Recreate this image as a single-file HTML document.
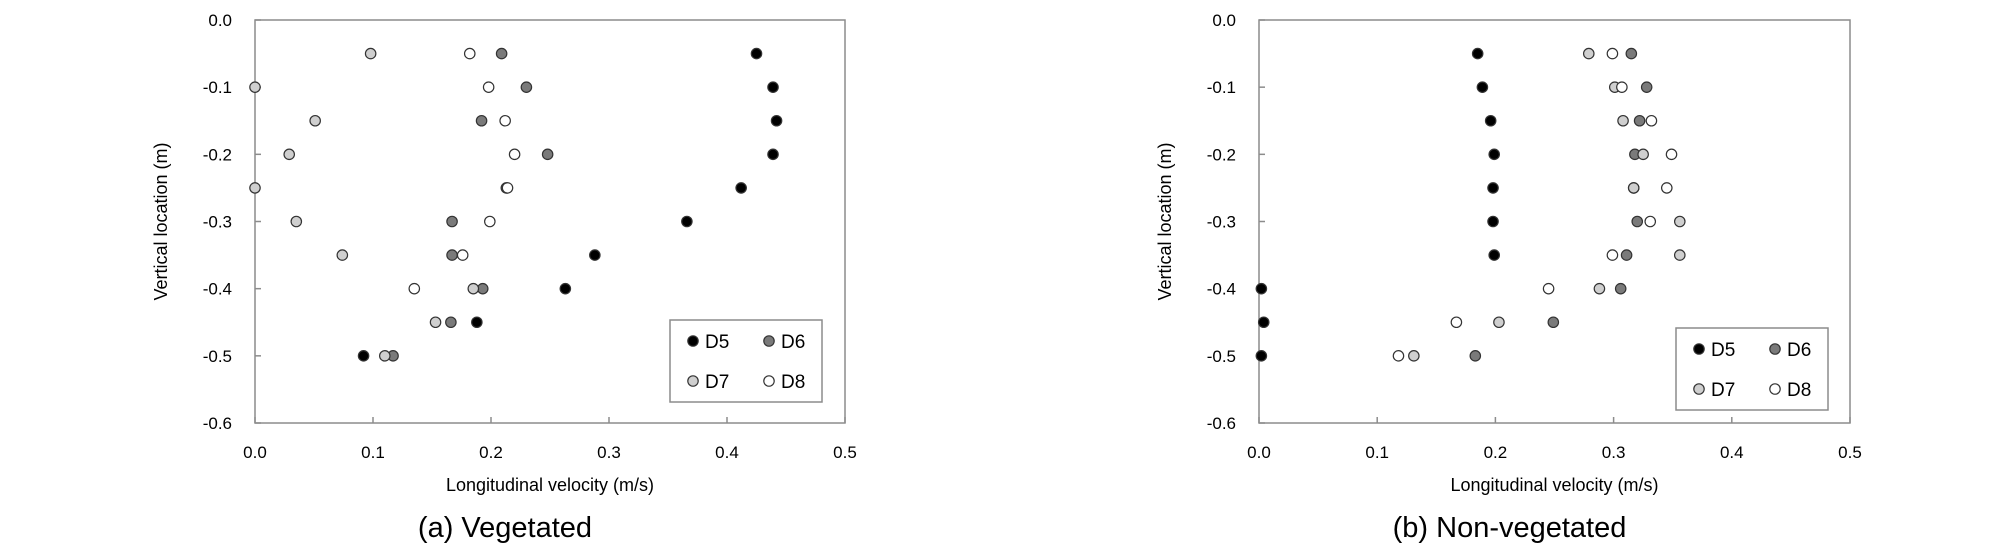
<!DOCTYPE html>
<html><head><meta charset="utf-8"><style>
html,body{margin:0;padding:0;background:#fff;}
svg{display:block;font-family:"Liberation Sans",sans-serif;}
</style></head><body>
<svg id="chart" width="2008" height="554" viewBox="0 0 2008 554" xmlns="http://www.w3.org/2000/svg"></svg>
<script>
const depths = [-0.05,-0.1,-0.15,-0.2,-0.25,-0.3,-0.35,-0.4,-0.45,-0.5];
const seriesNames = ["D5","D6","D7","D8"];
const xTicks = [0,0.1,0.2,0.3,0.4,0.5];
const yTicks = [0,-0.1,-0.2,-0.3,-0.4,-0.5,-0.6];
const vegD5 = [0.425,0.439,0.442,0.439,0.412,0.366,0.288,0.263,0.188,0.092];
const vegD6 = [0.209,0.230,0.192,0.248,0.213,0.167,0.167,0.193,0.166,0.117];
const vegD7 = [0.098,0.000,0.051,0.029,0.000,0.035,0.074,0.185,0.153,0.110];
const vegD8 = [0.182,0.198,0.212,0.220,0.214,0.199,0.176,0.135,null,null];
const nonD5 = [0.185,0.189,0.196,0.199,0.198,0.198,0.199,0.002,0.004,0.002];
const nonD6 = [0.315,0.328,0.322,0.318,0.317,0.320,0.311,0.306,0.249,0.183];
const nonD7 = [0.279,0.301,0.308,0.325,0.317,0.356,0.356,0.288,0.203,0.131];
const nonD8 = [0.299,0.307,0.332,0.349,0.345,0.331,0.299,0.245,0.167,0.118];

const fills = ["#000000","#7a7a7a","#cfcfcf","#ffffff"];
const NS = "http://www.w3.org/2000/svg";
const svg = document.getElementById("chart");
function mk(tag, attrs, parent){
  const e = document.createElementNS(NS, tag);
  for (const k in attrs) e.setAttribute(k, attrs[k]);
  (parent||svg).appendChild(e);
  return e;
}
function panel(id, x0, x1, y0, y1, series, subtitle, legend){
  const g = mk("g", {});
  
  
  const sx = v => x0 + (v - 0) / 0.5 * (x1 - x0);
  const sy = v => y0 + (0 - v) / 0.6 * (y1 - y0);
  const frame = mk("rect", {x:x0, y:y0, width:x1-x0, height:y1-y0, fill:"none", stroke:"#8c8c8c", "stroke-width":1.5}, g);
  
  
  yTicks.forEach(t => {
    const y = sy(t);
    const tk = mk("line", {x1:x0, x2:x0+6, y1:y, y2:y, stroke:"#8c8c8c", "stroke-width":1.5}, g);
    
    
    const lb = mk("text", {x:x0-23, y:y+6, "text-anchor":"end", "font-size":17, fill:"#000"}, g);
    lb.textContent = t.toFixed(1);
    
    
  });
  xTicks.forEach(t => {
    const x = sx(t);
    const tk = mk("line", {x1:x, x2:x, y1:y1, y2:y1-6, stroke:"#8c8c8c", "stroke-width":1.5}, g);
    
    
    const lb = mk("text", {x:x, y:y1+35, "text-anchor":"middle", "font-size":17, fill:"#000"}, g);
    lb.textContent = t.toFixed(1);
    
    
  });
  const xt = mk("text", {x:(x0+x1)/2, y:y1+68, "text-anchor":"middle", "font-size":18, fill:"#000"}, g);
  xt.textContent = "Longitudinal velocity (m/s)";
  
  
  const yt = mk("text", {x:0, y:0, "text-anchor":"middle", "font-size":18, fill:"#000", transform:`translate(${x0-88},${(y0+y1)/2}) rotate(-90)`}, g);
  yt.textContent = "Vertical location (m)";
  
  
  const st = mk("text", {x:(x0+x1)/2 - 45, y:y1+114, "text-anchor":"middle", "font-size":29, fill:"#000"}, g);
  st.textContent = subtitle;
  
  
  series.forEach((vals, si) => {
    vals.forEach((v, i) => {
      if (v === null) return;
      const c = mk("circle", {cx:sx(v), cy:sy(depths[i]), r:5.2, fill:fills[si], stroke:"#333", "stroke-width":1.2}, g);
      
      
    });
  });
  const lg = mk("g", {}, g);
  
  
  mk("rect", {x:legend.x, y:legend.y, width:152, height:82, fill:"#fff", stroke:"#8c8c8c", "stroke-width":1.5}, lg);
  seriesNames.forEach((n, si) => {
    const cx = legend.x + 23 + (si % 2) * 76;
    const cy = legend.y + 21 + Math.floor(si / 2) * 40;
    const e = mk("g", {}, lg);
    
    
    mk("circle", {cx:cx, cy:cy, r:5.2, fill:fills[si], stroke:"#333", "stroke-width":1.2}, e);
    const t = mk("text", {x:cx+12, y:cy+7, "font-size":19, fill:"#000"}, e);
    t.textContent = n;
  });
}
panel("vegetated", 255, 845, 20, 423, [vegD5, vegD6, vegD7, vegD8], "(a) Vegetated", {x:670, y:320});
panel("non-vegetated", 1259, 1850, 20, 423, [nonD5, nonD6, nonD7, nonD8], "(b) Non-vegetated", {x:1676, y:328});
</script>
</body></html>
